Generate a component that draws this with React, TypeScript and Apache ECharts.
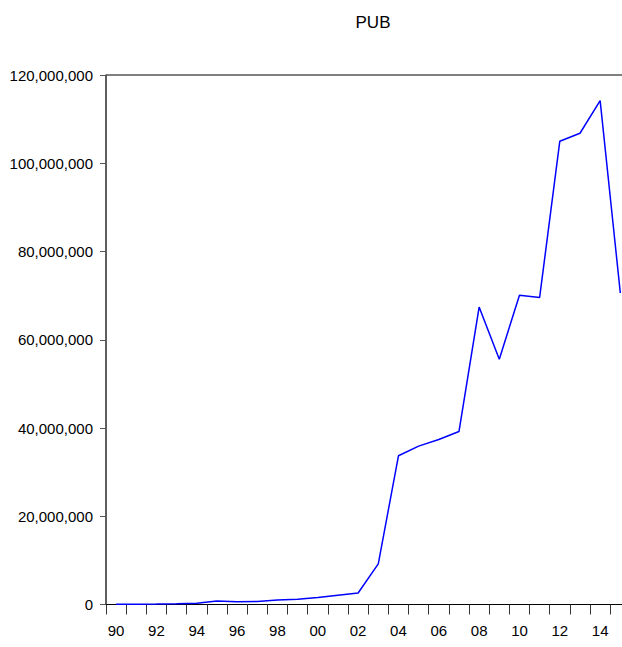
import React, { useEffect, useRef } from "react";
import * as echarts from "echarts";

const years: string[] = [
  "90", "91", "92", "93", "94", "95", "96", "97", "98", "99",
  "00", "01", "02", "03", "04", "05", "06", "07", "08", "09",
  "10", "11", "12", "13", "14", "15",
];

const pubValues: number[] = [
  50000, 80000, 100000, 150000, 300000, 800000, 600000, 700000, 1000000, 1200000,
  1600000, 2100000, 2600000, 9200000, 33700000, 35900000, 37400000, 39200000, 67400000, 55600000,
  70100000, 69600000, 105000000, 106800000, 114200000, 70600000,
];

const yTicks = { min: 0, max: 120000000, interval: 20000000 };

const FONT = "'Liberation Sans', Arial, sans-serif";

export default function App() {
  const ref = useRef<HTMLDivElement>(null);

  useEffect(() => {
    if (!ref.current) return;
    const chart = echarts.init(ref.current, undefined, { renderer: "svg" });
    chart.setOption({
      animation: false,
      backgroundColor: "#ffffff",
      title: {
        text: "PUB",
        left: 368,
        top: 9,
        textAlign: "center",
        textStyle: { fontFamily: FONT, fontSize: 17, fontWeight: "normal", color: "#000" },
      },
      grid: {
        left: 106,
        top: 75,
        right: 9.6,
        bottom: 42.5,
        outerBoundsMode: "none",
        containLabel: false,
        show: true,
        borderColor: "#000",
        borderWidth: 1,
        backgroundColor: "#fff",
      },
      xAxis: {
        type: "category",
        data: years,
        boundaryGap: true,
        axisLine: { show: true, lineStyle: { color: "#000", width: 1 } },
        axisTick: { show: true, interval: 0, length: 10, lineStyle: { color: "#333" } },
        axisLabel: {
          interval: 1,
          margin: 18,
          fontFamily: FONT,
          fontSize: 15,
          color: "#000",
        },
        splitLine: { show: false },
      },
      yAxis: {
        type: "value",
        min: yTicks.min,
        max: yTicks.max,
        interval: yTicks.interval,
        axisLine: { show: true, lineStyle: { color: "#555", width: 1.5 } },
        axisTick: { show: true, length: 6, lineStyle: { color: "#555" } },
        axisLabel: {
          margin: 13,
          fontFamily: FONT,
          fontSize: 15,
          color: "#000",
          formatter: (v: number) => v.toLocaleString("en-US"),
        },
        splitLine: { show: false },
      },
      series: [
        {
          type: "line",
          data: pubValues,
          symbol: "none",
          lineStyle: { color: "#0000ff", width: 1.5 },
        },
      ],
    });
    return () => chart.dispose();
  }, []);

  return (
    <div
      style={{
        position: "fixed",
        left: 0,
        top: 0,
        width: 622,
        height: 647,
        overflow: "hidden",
        background: "#fff",
      }}
    >
      <div ref={ref} style={{ width: 640, height: 647 }} />
    </div>
  );
}
